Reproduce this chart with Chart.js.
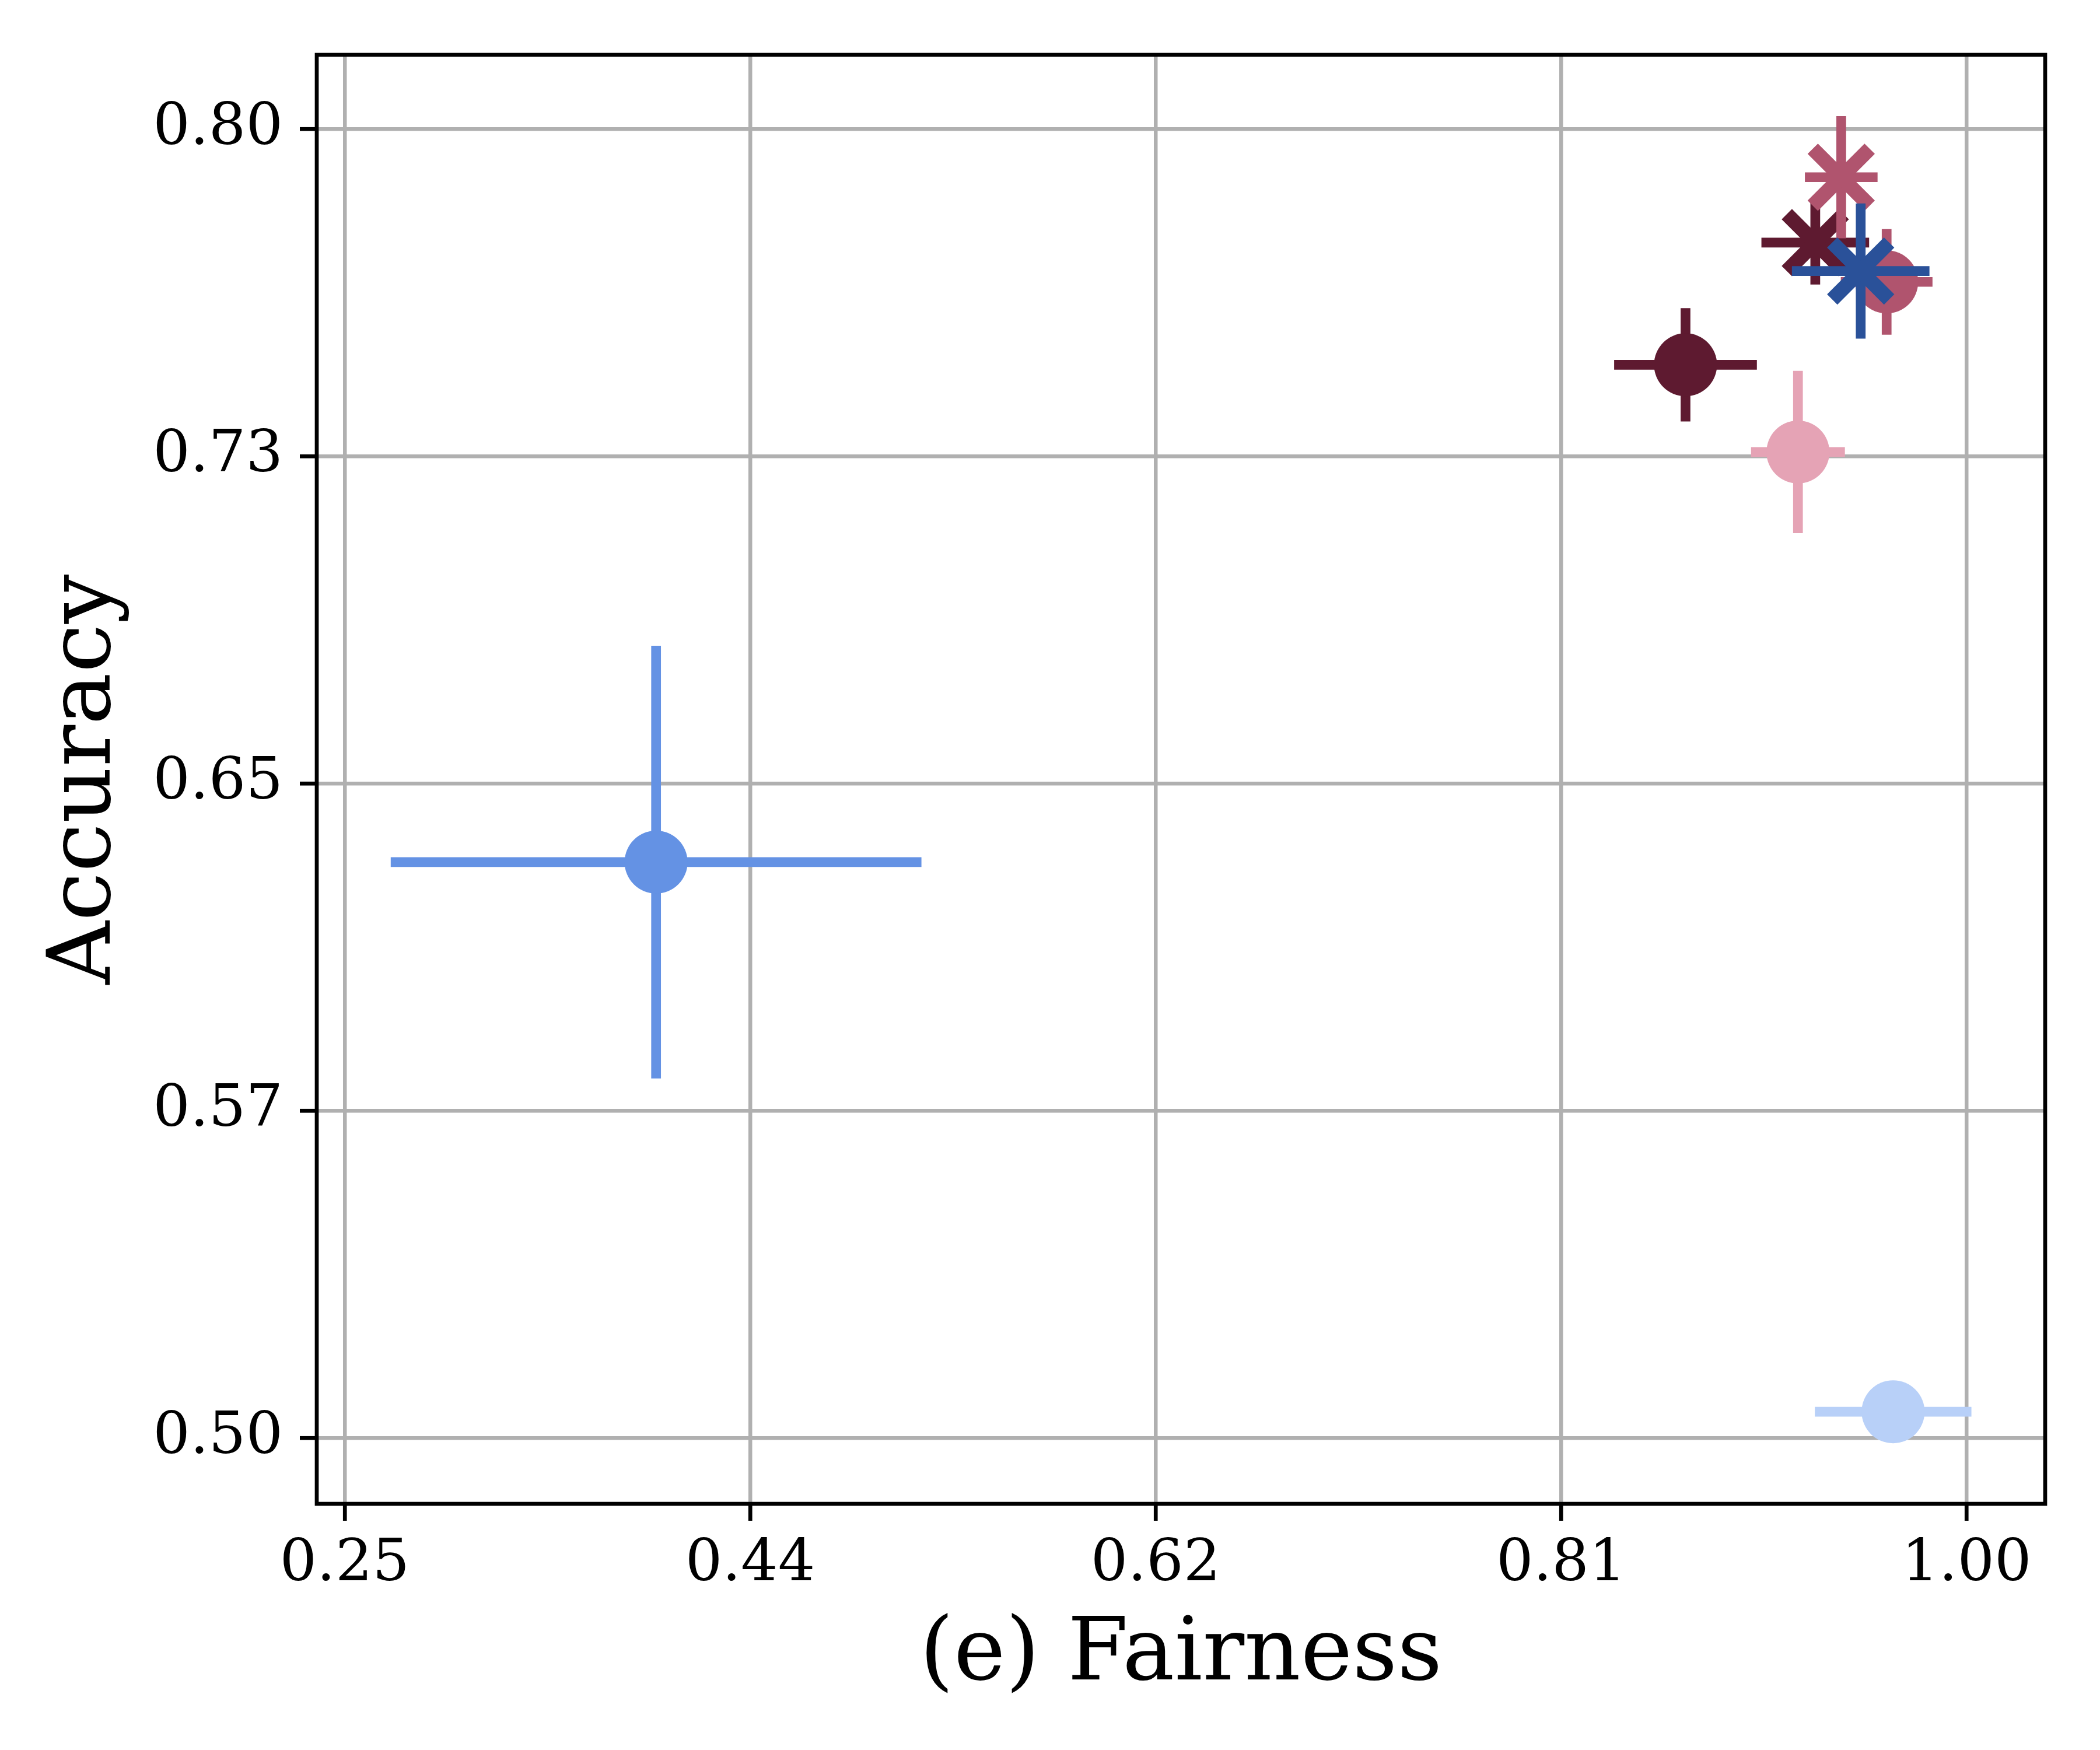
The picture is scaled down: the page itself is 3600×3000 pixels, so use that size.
<!DOCTYPE html>
<html>
<head>
<meta charset="utf-8">
<script src="https://cdn.jsdelivr.net/npm/chart.js@4.4.1/dist/chart.umd.min.js"></script>
<style>
  html, body { margin: 0; padding: 0; background: #fff; }
  #wrap { width: 3600px; height: 3000px; }
</style>
</head>
<body>
<div id="wrap"><canvas id="chart" width="3600" height="3000"></canvas></div>
<script>
// --- data ---
const fairness    = [0.394, 0.966, 0.870, 0.922, 0.963, 0.930, 0.942, 0.951];
const accuracy    = [0.632, 0.506, 0.746, 0.726, 0.765, 0.774, 0.789, 0.7675];
const fairnessErr = [0.1227, 0.0362, 0.033, 0.0217, 0.0212, 0.0249, 0.0168, 0.0318];
const accuracyErr = [0.0496, 0.006, 0.013, 0.0186, 0.0121, 0.0096, 0.014, 0.0155];
const markerColors = ['#6492E4', '#B8D0F8', '#5E1A30', '#E5A3B5', '#B0546E', '#5E1A30', '#B0546E', '#2A5199'];
const markerStyles = ['circle', 'circle', 'circle', 'circle', 'circle', 'crossRot', 'crossRot', 'crossRot'];

const xTicks = [0.25, 0.4375, 0.625, 0.8125, 1.0];
const xTickLabels = ['0.25', '0.44', '0.62', '0.81', '1.00'];
const yTicks = [0.5, 0.575, 0.65, 0.725, 0.8];
const yTickLabels = ['0.50', '0.57', '0.65', '0.73', '0.80'];

const SERIF = "'DejaVu Serif', 'Liberation Serif', serif";
const markerLook = {
    circle:   { radius: 54, borderWidth: 0 },
    crossRot: { radius: 69, borderWidth: 25 }
};

// error bars first, marker on top, one point after another
const datasets = [];
fairness.forEach((fx, i) => {
    const fy = accuracy[i];
    const c = markerColors[i];
    const bar = { showLine: true, borderColor: c, borderWidth: 16.7, pointRadius: 0, fill: false };
    datasets.push({ ...bar, data: [{ x: fx - fairnessErr[i], y: fy }, { x: fx + fairnessErr[i], y: fy }] });
    datasets.push({ ...bar, data: [{ x: fx, y: fy - accuracyErr[i] }, { x: fx, y: fy + accuracyErr[i] }] });
    const look = markerLook[markerStyles[i]];
    datasets.push({
        data: [{ x: fx, y: fy }],
        pointStyle: markerStyles[i],
        pointRadius: look.radius,
        pointBorderWidth: look.borderWidth,
        pointBackgroundColor: c,
        pointBorderColor: c
    });
});
// later datasets sit on top
datasets.forEach((d, k) => { d.order = datasets.length - k; });

const frame = {
    id: 'frame',
    afterDatasetsDraw(chart) {
        const { ctx, chartArea: a } = chart;
        ctx.save();
        ctx.strokeStyle = '#000';
        ctx.lineWidth = 6.7;
        ctx.strokeRect(a.left, a.top, a.right - a.left, a.bottom - a.top);
        ctx.restore();
    }
};

const tickFont = { family: SERIF, size: 100 };
const titleFont = { family: SERIF, size: 150 };
const gridStyle = { color: '#b0b0b0', lineWidth: 6.5, tickColor: '#000', tickWidth: 6.7, tickLength: 29 };

new Chart(document.getElementById('chart'), {
    type: 'scatter',
    data: { datasets },
    options: {
        responsive: false,
        animation: false,
        devicePixelRatio: 1,
        events: [],
        layout: { padding: { top: 90, right: 90, left: 0, bottom: 0 } },
        plugins: { legend: { display: false }, tooltip: { enabled: false } },
        scales: {
            x: {
                type: 'linear',
                min: 0.2371,
                max: 1.0363,
                afterBuildTicks: s => { s.ticks = xTicks.map(v => ({ value: v })); },
                afterFit: s => { s.height = 422; },
                ticks: {
                    callback: v => xTickLabels[xTicks.indexOf(v)],
                    font: tickFont, color: '#000', padding: 16, autoSkip: false, maxRotation: 0
                },
                grid: gridStyle,
                border: { display: false },
                title: { display: true, text: '(e) Fairness', font: titleFont, color: '#000', padding: { top: 0, bottom: 70 } }
            },
            y: {
                type: 'linear',
                min: 0.4849,
                max: 0.81705,
                afterBuildTicks: s => { s.ticks = yTicks.map(v => ({ value: v })); },
                afterFit: s => { s.width = 543; },
                ticks: {
                    callback: v => yTickLabels[yTicks.indexOf(v)],
                    font: tickFont, color: '#000', padding: 29, autoSkip: false
                },
                grid: gridStyle,
                border: { display: false },
                title: { display: true, text: 'Accuracy', font: titleFont, color: '#000', padding: { top: 59, bottom: 0 } }
            }
        }
    },
    plugins: [frame]
});
</script>
</body>
</html>
